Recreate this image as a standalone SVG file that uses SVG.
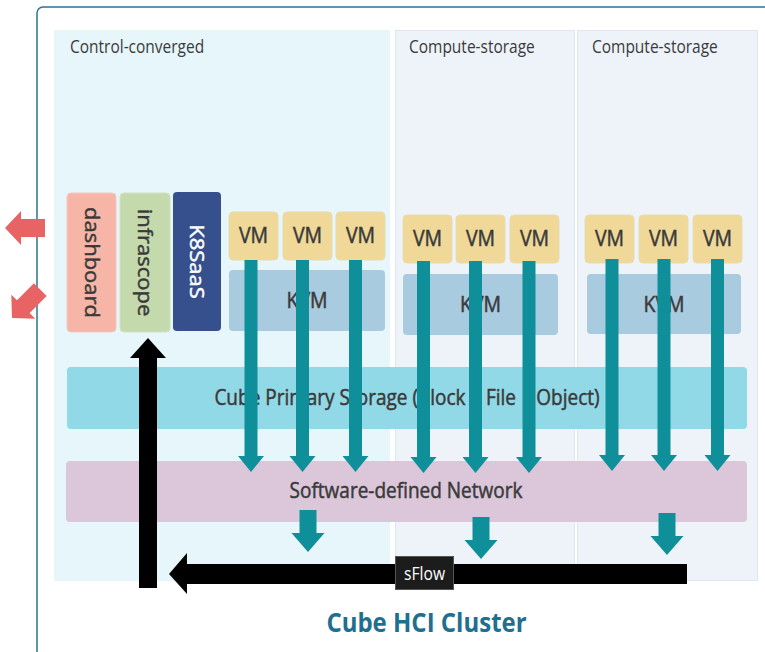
<svg xmlns="http://www.w3.org/2000/svg" width="765" height="652" viewBox="0 0 765 652">
<defs>
<style>
text{font-family:"Open Sans","Noto Sans","DejaVu Sans",sans-serif;fill:#3a3a3a}
.lbl{font-size:15.5px}
.big{font-size:19.5px;text-anchor:middle;stroke:#3a3a3a;stroke-width:0.45}
.rot{font-size:20px;text-anchor:middle;stroke:#3a3a3a;stroke-width:0.45}
.vm{fill:#efd898;stroke:#e9dcae;stroke-width:1}
.kvm{fill:#a9cbe0}
.cs{fill:#eef3fa;stroke:#dfe6ee;stroke-width:1}
.teal{fill:#0f8f9a}
.pink{fill:#e86464}
.blk{fill:#000}
</style>
<path id="tarrow" d="M-6.5,0 H6.5 V196 H13 L0,212 L-13,196 H-6.5 Z"/>
<path id="narrow" d="M-8.5,0 H8.5 V23 H16.5 L0,42 L-16.5,23 H-8.5 Z"/>
<path id="parrow" d="M0,0 L16,-17 V-9 H40 V9 H16 V17 Z"/>
</defs>
<rect width="765" height="652" fill="#fff"/>
<g id="cluster">
<rect x="37" y="7" width="760" height="690" rx="6" fill="#fff" stroke="#2e7391" stroke-width="1.5"/>
<text transform="translate(426.5,632) scale(1,1.12)" style="font-size:24px;font-weight:700;fill:#1f6f8f;text-anchor:middle">Cube HCI Cluster</text>
</g>
<g id="control-converged">
<rect x="54" y="30" width="336" height="551" fill="#e6f6fa"/>
<text class="lbl" transform="translate(70,53) scale(1,1.12)">Control-converged</text>
</g>
<g id="compute-storage-1">
<rect class="cs" x="395.5" y="30.5" width="179" height="550"/>
<text class="lbl" transform="translate(409,53) scale(1,1.12)">Compute-storage</text>
</g>
<g id="compute-storage-2">
<rect class="cs" x="577.5" y="30.5" width="180" height="550"/>
<text class="lbl" transform="translate(592,53) scale(1,1.12)">Compute-storage</text>
</g>
<g id="dashboard">
<rect x="67" y="193" width="49" height="139" rx="4" fill="#f6b5a6" stroke="#f3c9c0"/>
<text class="rot" transform="translate(84.5,262.5) scale(1,1.1) rotate(90)">dashboard</text>
</g>
<g id="infrascope">
<rect x="120" y="193" width="50" height="139" rx="4" fill="#c4d9ac" stroke="#cfe3c4"/>
<text class="rot" transform="translate(138,262.5) scale(1,1.1) rotate(90)">infrascope</text>
</g>
<g id="k8saas">
<rect x="173" y="192" width="48" height="139" rx="4" fill="#35508c"/>
<text class="rot" transform="translate(190,261.5) scale(1,1.1) rotate(90)" style="fill:#fff;stroke:#fff">K8SaaS</text>
</g>
<g id="kvm-1">
<rect class="kvm" x="229" y="270" width="156" height="61" rx="4"/>
<text class="big" transform="translate(307,308) scale(1,1.1)">KVM</text>
</g>
<g id="kvm-2">
<rect class="kvm" x="403" y="274" width="155" height="61" rx="4"/>
<text class="big" transform="translate(480.5,312) scale(1,1.1)">KVM</text>
</g>
<g id="kvm-3">
<rect class="kvm" x="587" y="274" width="154" height="60" rx="4"/>
<text class="big" transform="translate(664,311.5) scale(1,1.1)">KVM</text>
</g>
<g id="vm-1"><rect class="vm" x="229" y="212" width="49" height="48" rx="4"/><text class="big" transform="translate(253.5,243) scale(1,1.1)">VM</text></g>
<g id="vm-2"><rect class="vm" x="283" y="212" width="49" height="48" rx="4"/><text class="big" transform="translate(307.5,243) scale(1,1.1)">VM</text></g>
<g id="vm-3"><rect class="vm" x="336" y="212" width="49" height="48" rx="4"/><text class="big" transform="translate(360.5,243) scale(1,1.1)">VM</text></g>
<g id="vm-4"><rect class="vm" x="403" y="215" width="49" height="48" rx="4"/><text class="big" transform="translate(427.5,246) scale(1,1.1)">VM</text></g>
<g id="vm-5"><rect class="vm" x="456" y="215" width="49" height="48" rx="4"/><text class="big" transform="translate(480.5,246) scale(1,1.1)">VM</text></g>
<g id="vm-6"><rect class="vm" x="510" y="215" width="49" height="48" rx="4"/><text class="big" transform="translate(534.5,246) scale(1,1.1)">VM</text></g>
<g id="vm-7"><rect class="vm" x="585" y="215" width="49" height="48" rx="4"/><text class="big" transform="translate(609.5,246) scale(1,1.1)">VM</text></g>
<g id="vm-8"><rect class="vm" x="639" y="215" width="49" height="48" rx="4"/><text class="big" transform="translate(663.5,246) scale(1,1.1)">VM</text></g>
<g id="vm-9"><rect class="vm" x="693" y="215" width="49" height="48" rx="4"/><text class="big" transform="translate(717.5,246) scale(1,1.1)">VM</text></g>
<g id="primary-storage">
<rect x="67" y="367" width="680" height="62" rx="4" fill="#92d9e8"/>
<text class="big" style="font-size:19px" transform="translate(407,405) scale(1,1.1)">Cube Primary Storage (Block | File | Object)</text>
</g>
<g id="sdn">
<rect x="66" y="461" width="681" height="61" rx="4" fill="#dbc6da"/>
<text class="big" style="font-size:19px" transform="translate(406,498) scale(1,1.1)">Software-defined Network</text>
</g>
<g id="connectors">
<use href="#tarrow" class="teal" x="251" y="260"/>
<use href="#tarrow" class="teal" x="302.5" y="260"/>
<use href="#tarrow" class="teal" x="355.5" y="260"/>
<use href="#tarrow" class="teal" x="423.5" y="261"/>
<use href="#tarrow" class="teal" x="475.5" y="261"/>
<use href="#tarrow" class="teal" x="529" y="261"/>
<use href="#tarrow" class="teal" x="612" y="259"/>
<use href="#tarrow" class="teal" x="664" y="259"/>
<use href="#tarrow" class="teal" x="717.5" y="259"/>
<use href="#narrow" class="teal" x="308" y="510"/>
<use href="#narrow" class="teal" x="481" y="517"/>
<use href="#narrow" class="teal" x="667" y="513"/>
<polygon class="blk" points="139,588 157,588 157,358 166,358 148,338 130,358 139,358"/>
<polygon class="blk" points="687,564 687,584 187,584 187,594 169,574 187,553 187,564"/>
<use href="#parrow" class="pink" transform="translate(5,228)"/>
<use href="#parrow" class="pink" transform="translate(12,318) rotate(-45)"/>
</g>
<g id="sflow">
<rect x="395.5" y="556.5" width="58" height="33" fill="#1c1c1c" stroke="#555" stroke-width="1"/>
<text class="lbl" style="fill:#fff;text-anchor:middle;font-size:15.7px" transform="translate(424.5,580) scale(1,1.1)">sFlow</text>
</g>
</svg>
